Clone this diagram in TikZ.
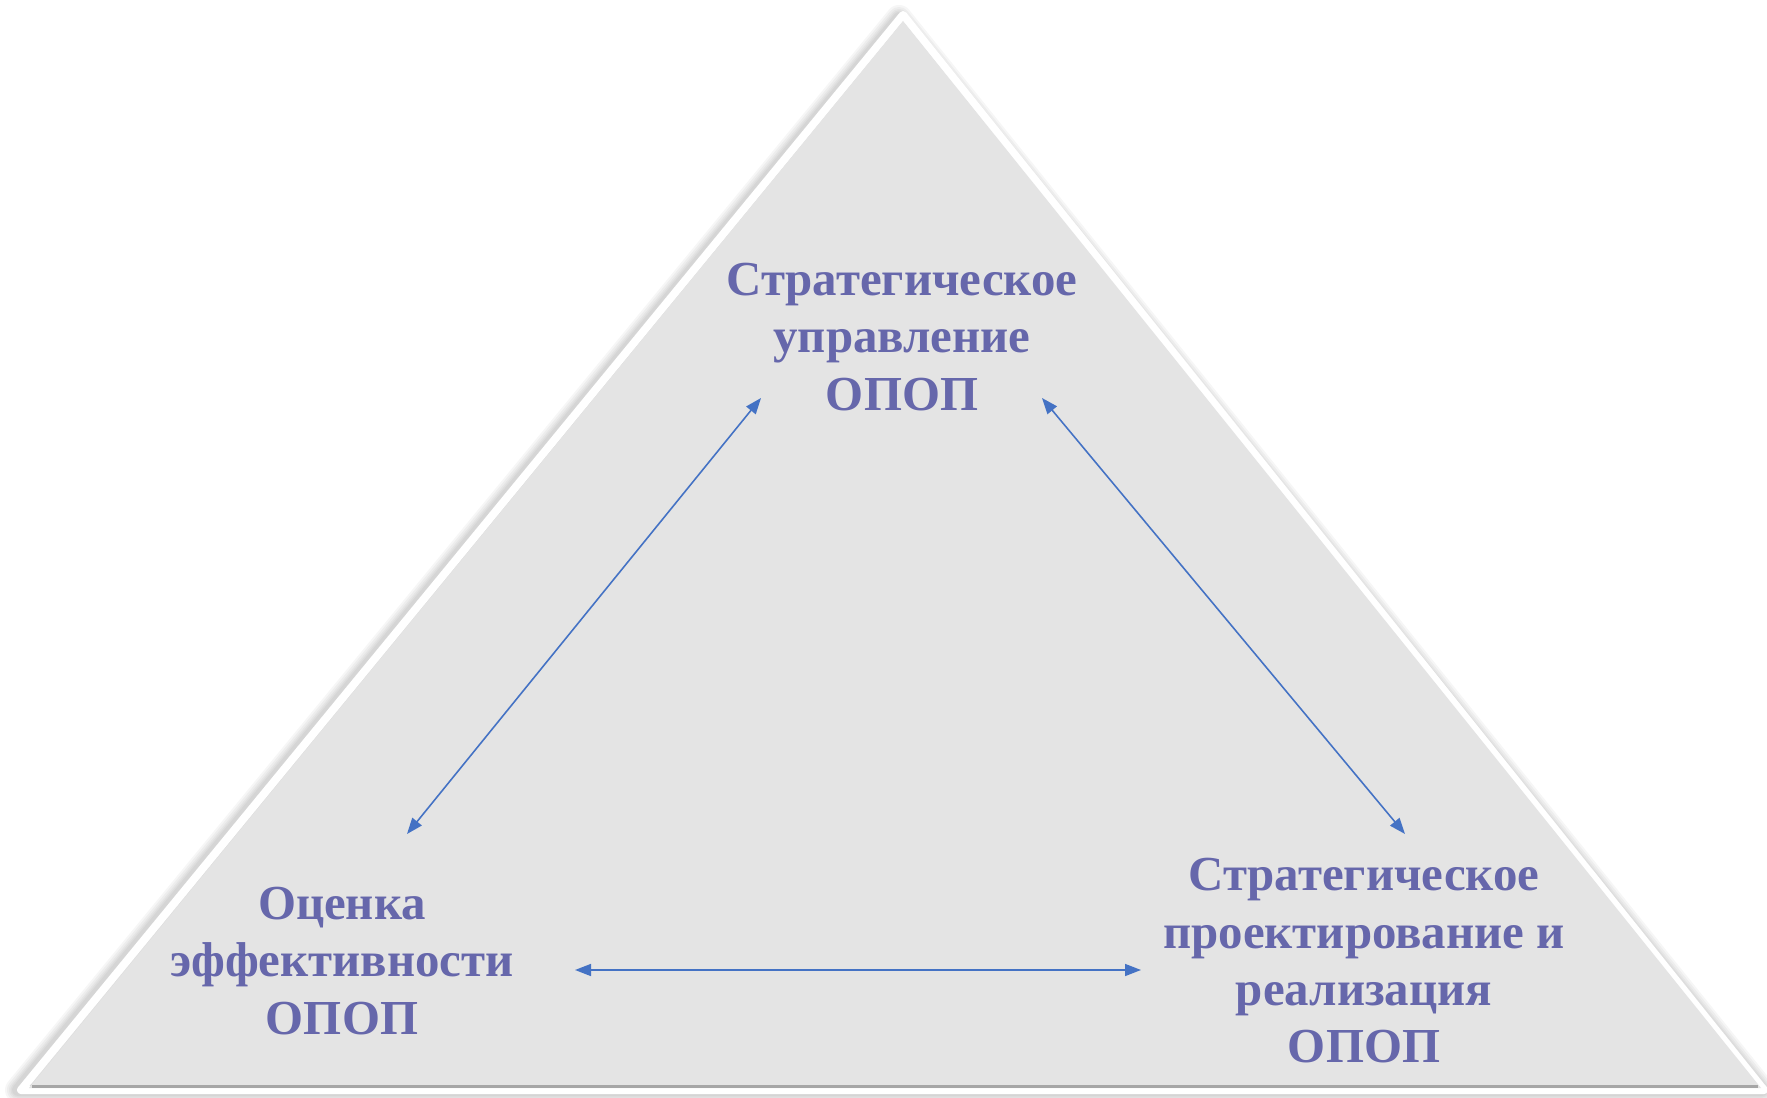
\documentclass[tikz,border=0pt]{standalone}
\usepackage{fontspec}
\setmainfont{Liberation Serif}
\usepackage{tikz}
\usetikzlibrary{arrows.meta, positioning, calc}

\definecolor{txtblue}{HTML}{6667AB}
\definecolor{arrblue}{HTML}{4472C4}
\definecolor{trifill}{HTML}{E4E4E4}

\begin{document}
\begin{tikzpicture}[x=0.01cm, y=-0.01cm,
    label/.style={align=center, text=txtblue, font=\fontsize{13.9}{16.3}\selectfont\bfseries, inner sep=0pt},
    link/.style={draw=arrblue, line width=0.45pt, {Triangle[length=0.16cm,width=0.12cm]}-{Triangle[length=0.16cm,width=0.12cm]}}]
    \useasboundingbox (0,0) rectangle (1767,1098);

    % shadow and frame
    \foreach \w in {0.26, 0.22, 0.18, 0.15, 0.12}
        \draw[black, opacity=0.035, line width=\w cm, line join=round] (899,18) -- (18,1090) -- (1762,1090) -- cycle;
    \draw[white, line width=0.08cm, line join=round] (903,15) -- (21,1090) -- (1764,1090) -- cycle;
    \fill[trifill] (903,21) -- (29,1088) -- (1761,1088) -- cycle;
    \draw[black!35, line width=0.03cm] (32,1086) -- (1758,1086);

    \node[label] (top) at (902,337) {Стратегическое\\управление\\ОПОП};
    \node[label] (left) at (342,961) {Оценка\\эффективности\\ОПОП};
    \node[label] (right) at (1364,961) {Стратегическое\\проектирование и\\реализация\\ОПОП};

    \coordinate (topL) at (761,398);
    \coordinate (topR) at (1042,398);
    \coordinate (leftT) at (407,834);
    \coordinate (rightT) at (1405,834);
    \coordinate (leftE) at (575,970);
    \coordinate (rightW) at (1141,970);

    \draw[link] (topL) -- (leftT);
    \draw[link] (topR) -- (rightT);
    \draw[link] (leftE) -- (rightW);
\end{tikzpicture}
\end{document}
